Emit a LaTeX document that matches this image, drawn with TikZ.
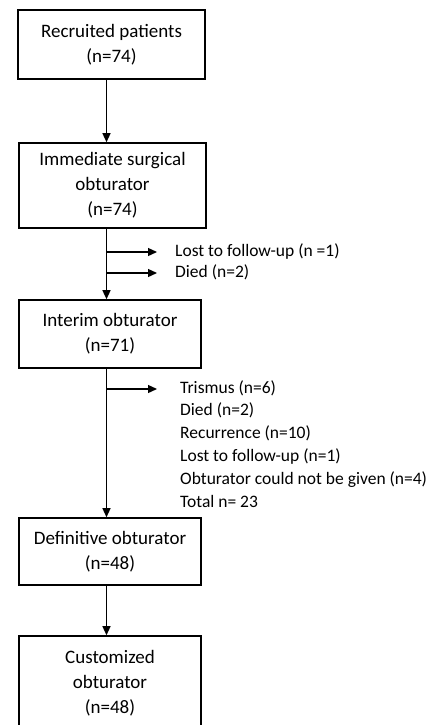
\documentclass[tikz,border=0pt]{standalone}
\usepackage{fontspec}
\setmainfont{Carlito}
\usetikzlibrary{positioning,arrows.meta}

\begin{document}
\begin{tikzpicture}[
    x=1pt, y=-1pt,
    box/.style={draw, line width=1.6pt, align=center, inner sep=0pt,
      font=\fontsize{19}{25}\selectfont},
    item/.style={anchor=west, inner sep=0pt, text height=12pt, text depth=4pt,
      font=\fontsize{17.5}{23}\selectfont},
    flow/.style={draw, line width=1.3pt, ->},
    >={Triangle[length=9pt,width=8pt]}
]

\clip (0,0) rectangle (429,725);

\coordinate (spine) at (106.5,0);

\node[box, minimum width=187pt, minimum height=69pt] (recruit) at (111.5,44.5) {Recruited patients\\(n=74)};
\node[box, minimum width=187pt, minimum height=85pt] (immediate) at (112.5,185.5) {Immediate surgical\\obturator\\(n=74)};
\node[box, minimum width=182pt, minimum height=68pt] (interim) at (110,334) {Interim obturator\\(n=71)};
\node[box, minimum width=182pt, minimum height=67pt] (definitive) at (110,551.5) {Definitive obturator\\(n=48)};
\node[box, minimum width=182pt, minimum height=94pt] (custom) at (110,683) {Customized\\obturator\\(n=48)};

\draw[flow] (recruit.south -| spine) -- (immediate.north -| spine);
\draw[flow] (immediate.south -| spine) -- (interim.north -| spine);
\draw[flow] (interim.south -| spine) -- (definitive.north -| spine);
\draw[flow] (definitive.south -| spine) -- (custom.north -| spine);

% losses before the interim obturator
\node[item] (lost) at (175,252) {Lost to follow-up (n =1)};
\node[item] (died) at (175,273) {Died (n=2)};
\draw[flow, shorten >=18pt] (lost -| spine) -- (lost.west);
\draw[flow, shorten >=18pt] (died -| spine) -- (died.west);

% losses before the definitive obturator
\foreach \reason [count=\i from 0] in {Trismus (n=6), Died (n=2), Recurrence (n=10),
    Lost to follow-up (n=1), Obturator could not be given (n=4), Total n= 23}
  \node[item] (reason\i) at (180,{389+22.8*\i}) {\reason};
\draw[flow, shorten >=23pt] (reason0 -| spine) -- (reason0.west);

\end{tikzpicture}
\end{document}
